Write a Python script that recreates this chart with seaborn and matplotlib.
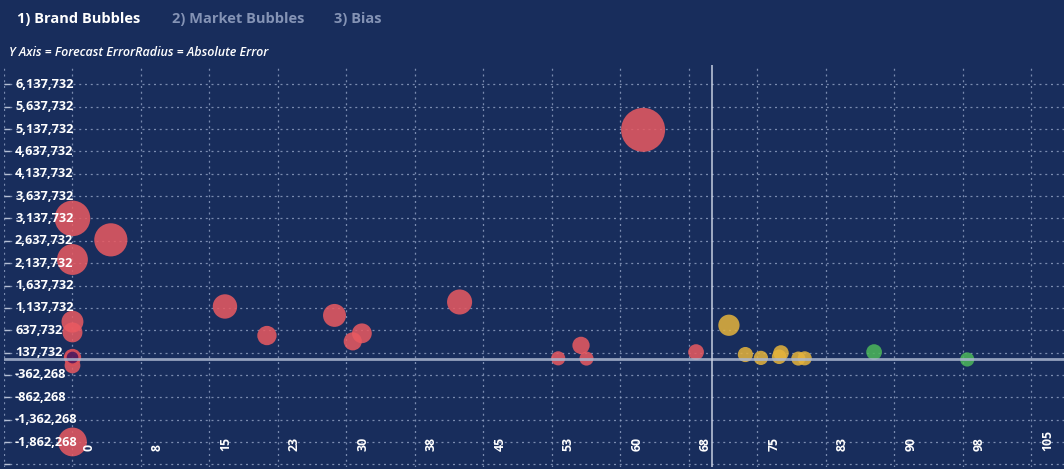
import numpy as np
import pandas as pd
import seaborn as sns
import matplotlib.pyplot as plt
from matplotlib.transforms import ScaledTranslation

sns.set_theme(style="dark")
plt.rcParams["font.family"] = ["Open Sans", "DejaVu Sans"]

BG = "#182d5c"

# Brand-level accuracy (x) vs forecast error (y); bubble radius follows |error|
accuracy = [62.5, 0.0, 4.2, 0.0, 0.0, 0.0, 0.0, 0.0, 0.0,
            16.7, 21.3, 28.7, 31.7, 30.7, 42.4, 53.2, 55.7, 56.3, 68.3,
            71.9, 73.7, 75.4, 77.4, 77.6, 79.5, 80.2, 87.8, 98.0]
forecast_error = [5120000, 3140000, 2660000, 2220000, 830000, 590000, -150000, 40000, -1860000,
                  1170000, 520000, 970000, 570000, 390000, 1270000, 10000, 300000, 5000, 150000,
                  750000, 95000, 20000, 45000, 130000, 5000, 10000, 150000, -15000]
status = ["under"] * 6 + ["under", "flag", "under"] + ["under"] * 10 + \
         ["near"] * 7 + ["over"] * 2

x_ticks = [-7.5, 0, 7.5, 15, 22.5, 30, 37.5, 45, 52.5, 60, 67.5, 75, 82.5, 90, 97.5, 105]
x_tick_labels = ["", "0", "8", "15", "23", "30", "38", "45", "53", "60", "68",
                 "75", "83", "90", "98", "105"]
y_ticks = [-2362268, -1862268, -1362268, -862268, -362268, 137732, 637732, 1137732,
           1637732, 2137732, 2637732, 3137732, 3637732, 4137732, 4637732, 5137732,
           5637732, 6137732]

df = pd.DataFrame({"accuracy": accuracy, "forecast_error": forecast_error, "status": status})
df["abs_error"] = np.abs(df["forecast_error"])

palette = {"under": "#ea5a61", "near": "#e6b43c", "over": "#4cb85a", "flag": "#5a1d5e"}
size_kw = dict(size="abs_error", sizes=(102, 1004), size_norm=(0, 5120000))

fig = plt.figure(figsize=(10.64, 4.69), dpi=100, facecolor=BG)
ax = fig.add_axes([4 / 1064, 2 / 469, 1060 / 1064, 402 / 469])
ax.set_facecolor(BG)

main = df[df["status"] != "flag"]
flagged = df[df["status"] == "flag"]
sns.scatterplot(data=main, x="accuracy", y="forecast_error", hue="status", palette=palette,
                alpha=0.85, linewidth=0, legend=False, ax=ax, zorder=3, **size_kw)
sns.scatterplot(data=flagged, x="accuracy", y="forecast_error", color=palette["flag"],
                edgecolor="#d9505a", linewidth=2, alpha=0.95, legend=False, ax=ax,
                zorder=3, **size_kw)

ax.set_xlim(-7.5, 108.6)
ax.set_ylim(-2420000, 6570000)
ax.set_xticks(x_ticks)
ax.set_yticks(y_ticks)
ax.set_xlabel("")
ax.set_ylabel("")
ax.grid(True, color="#93a3c6", lw=0.9, ls=(0, (1.6, 3)), alpha=0.8)
ax.set_axisbelow(True)
ax.tick_params(axis="x", length=0, labelbottom=False)
ax.tick_params(axis="y", left=True, direction="in", length=4, width=1,
               color="#b5bfd4", labelleft=False)
for s in ax.spines.values():
    s.set_visible(False)

# reference lines: zero error and target accuracy
ax.axhline(0, color="#aab6cf", lw=2, alpha=0.85, zorder=4)
ax.axvline(70, color="#c9d1e3", lw=1.2, alpha=0.9, zorder=4)

# value labels drawn inside the plot area, above the bubbles
ylab_tr = ax.get_yaxis_transform() + ScaledTranslation(11 / 100, 0, fig.dpi_scale_trans)
for v in y_ticks[1:]:
    ax.text(0, v, f"{v:,}", transform=ylab_tr, ha="left", va="center",
            color="white", fontsize=9.2, fontweight="bold", zorder=6)

xlab_tr = ax.get_xaxis_transform() + ScaledTranslation(16.5 / 100, 16 / 100, fig.dpi_scale_trans)
for v, lab in zip(x_ticks, x_tick_labels):
    if lab:
        ax.text(v, 0, lab, transform=xlab_tr, ha="center", va="bottom", rotation=90,
                color="white", fontsize=8.8, fontweight="bold", zorder=6)

# header tabs and subtitle
fig.text(17 / 1064, 1 - 18.5 / 469, "1) Brand Bubbles", color="white",
         fontsize=10.5, fontweight="bold", va="center", ha="left")
fig.text(172 / 1064, 1 - 18.5 / 469, "2) Market Bubbles", color="#8493b5",
         fontsize=10.5, fontweight="bold", va="center", ha="left")
fig.text(334 / 1064, 1 - 18.5 / 469, "3) Bias", color="#8493b5",
         fontsize=10.5, fontweight="bold", va="center", ha="left")
fig.text(9 / 1064, 1 - 53 / 469, "Y Axis = Forecast ErrorRadius = Absolute Error",
         color="white", fontsize=9, fontstyle="italic", fontweight="semibold",
         va="center", ha="left")

fig.savefig("out.png", dpi=100, facecolor=BG)
